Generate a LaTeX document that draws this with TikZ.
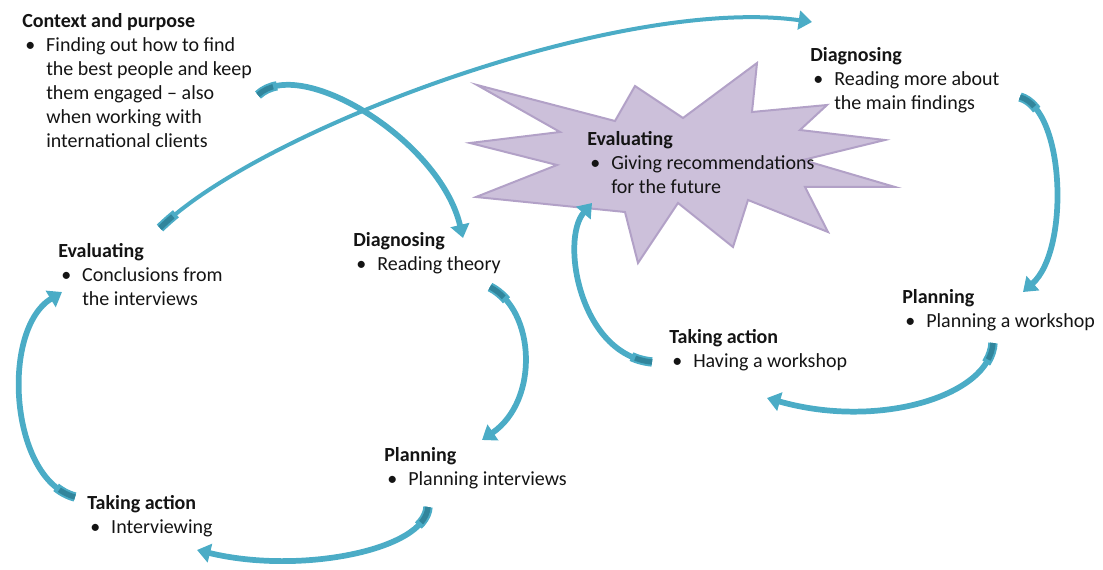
\documentclass[tikz,border=0pt]{standalone}
\usepackage{fontspec}
\setmainfont{Carlito}
\usetikzlibrary{arrows.meta}
\definecolor{ablue}{RGB}{75,172,198}
\definecolor{adark}{RGB}{49,133,156}
\definecolor{starfill}{RGB}{204,192,218}
\definecolor{starline}{RGB}{178,161,199}
\definecolor{ink}{RGB}{20,20,20}
\newcommand\bitem[1]{\hspace*{2.25pt}\makebox[15.75pt][l]{\textbullet}#1}
\newcommand\bcont[1]{\hspace*{18pt}#1}
\newcommand\flowarrow[5][]{%
  \draw[tailbase] (#2) .. controls #3 and #4 .. (#5);
  \draw[flow,#1] (#2) .. controls #3 and #4 .. (#5);
  \draw[tailseg] (#2) .. controls #3 and #4 .. (#5);}
\begin{document}
\begin{tikzpicture}[x=0.75pt,y=-0.75pt,
  txt/.style={anchor=north west, inner sep=0pt, align=left, text=ink,
              font=\fontsize{15}{18}\selectfont},
  flow/.style={draw=ablue, line width=4.3pt, -{Triangle[width=14pt,length=10pt]}},
  tailbase/.style={draw=ablue, line width=7pt, dash pattern=on 16pt off 2000pt},
  tailseg/.style={draw=adark, line width=4pt, dash pattern=on 13pt off 2000pt},
  starshape/.style={fill=starfill, draw=starline, line width=1.5pt, line join=miter}]
\useasboundingbox (0,0) rectangle (1103,570);

% star
\filldraw[starshape] (477,85) -- (615,121) -- (635,86) -- (683,118) -- (757,63)
  -- (752,112) -- (827,105) -- (800,130) -- (885,140) -- (803,160) -- (895,187)
  -- (805,187) -- (828,232) -- (748,200) -- (733,247) -- (678,203) -- (638,263)
  -- (625,212) -- (476,197) -- (557,165) -- (470,143) -- (560,132) -- cycle;

% texts
\node[txt] (ctx) at (22,13) {\textbf{Context and purpose}\\
  \bitem{Finding out how to find}\\ \bcont{the best people and keep}\\
  \bcont{them engaged – also}\\ \bcont{when working with}\\ \bcont{international clients}};
\node[txt] (evalL) at (58,243) {\textbf{Evaluating}\\ \bitem{Conclusions from}\\ \bcont{the interviews}};
\node[txt] (diagL) at (353,232) {\textbf{Diagnosing}\\ \bitem{Reading theory}};
\node[txt] (planL) at (384,447) {\textbf{Planning}\\ \bitem{Planning interviews}};
\node[txt] (takeL) at (87,495) {\textbf{Taking action}\\ \bitem{Interviewing}};
\node[txt] (diagR) at (810,47) {\textbf{Diagnosing}\\ \bitem{Reading more about}\\ \bcont{the main findings}};
\node[txt] (evalS) at (587,131) {\textbf{Evaluating}\\ \bitem{Giving recommendations}\\ \bcont{for the future}};
\node[txt] (planR) at (902,289) {\textbf{Planning}\\ \bitem{Planning a workshop}};
\node[txt] (takeR) at (669,329) {\textbf{Taking action}\\ \bitem{Having a workshop}};

% arrow end points
\coordinate (a1s) at (258,95);   \coordinate (a1e) at (463,238);
\coordinate (a2s) at (160,228);  \coordinate (a2e) at (812,22);
\coordinate (a3s) at (490,287);  \coordinate (a3e) at (482,440);
\coordinate (a4s) at (428,507);  \coordinate (a4e) at (197,550);
\coordinate (a5s) at (75,497);   \coordinate (a5e) at (62,292);
\coordinate (a6s) at (1020,97);  \coordinate (a6e) at (1023,292);
\coordinate (a7s) at (993,343);  \coordinate (a7e) at (767,398);
\coordinate (a8s) at (652,362);  \coordinate (a8e) at (592,203);

\flowarrow{a1s}{(300,55)}{(440,140)}{a1e}
\flowarrow[line width=3pt]{a2s}{(260,130)}{(620,-5)}{a2e}
\flowarrow{a3s}{(535,310)}{(540,400)}{a3e}
\flowarrow{a4s}{(425,550)}{(300,575)}{a4e}
\flowarrow{a5s}{(10,480)}{(0,330)}{a5e}
\flowarrow{a6s}{(1065,110)}{(1070,250)}{a6e}
\flowarrow{a7s}{(990,395)}{(880,430)}{a7e}
\flowarrow{a8s}{(580,355)}{(560,240)}{a8e}
\end{tikzpicture}
\end{document}
